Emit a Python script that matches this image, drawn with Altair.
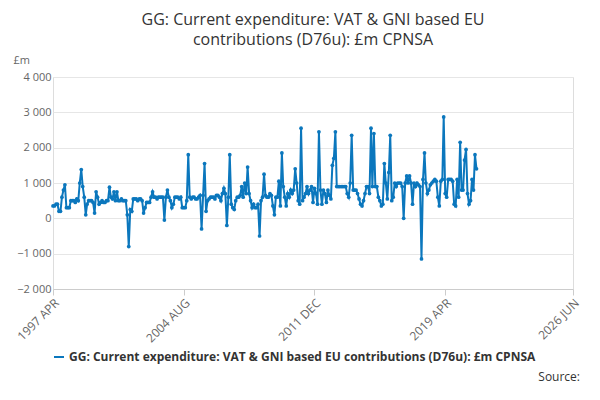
import altair as alt
import pandas as pd

SERIES = "GG: Current expenditure: VAT & GNI based EU contributions (D76u): £m CPNSA"

values = [
    350, 350, 400, 400, 200, 200, 600, 800, 950, 300, 300, 300,
    500, 500, 500, 450, 550, 500, 1000, 1380, 900, 600, 100, 400,
    500, 500, 500, 450, 150, 750, 600, 400, 450, 500, 450, 450,
    500, 500, 880, 600, 550, 750, 500, 750, 500, 500, 550, 500,
    500, 500, 100, -800, 250, 200, 550, 550, 550, 500, 550, 550,
    500, 150, 300, 450, 450, 450, 600, 750, 600, 600, 550, 600,
    600, 600, 600, -50, 600, 800, 600, 500, 300, 400, 600, 600,
    600, 550, 600, 300, 300, 300, 500, 1800, 600, 550, 600, 600,
    550, 550, 600, 650, -300, 650, 1550, 200, 500, 550, 600, 600,
    600, 550, 650, 650, 600, 500, 700, 850, 700, -200, 600, 1800,
    400, 300, 250, 500, 600, 600, 650, 900, 600, 1000, 700, 1450,
    700, 500, 300, 400, 300, 300, 400, -500, 500, 600, 1250, 650,
    600, 600, 700, 650, 350, 100, 600, 600, 1050, 350, 1850, 900,
    600, 350, 700, 600, 800, 700, 800, 1400, 1000, 500, 400, 2550,
    500, 600, 700, 900, 700, 800, 900, 450, 850, 700, 400, 2450,
    800, 400, 800, 700, 450, 800, 650, 550, 1500, 1700, 2450, 900,
    900, 900, 900, 900, 900, 900, 700, 600, 1000, 2350, 800, 800,
    800, 700, 550, 400, 350, 500, 700, 900, 900, 700, 2550, 900,
    2400, 900, 900, 600, 500, 350, 400, 1550, 1000, 550, 1300, 2350,
    500, 600, 1000, 900, 1000, 1000, 1000, 900, 0, 1000, 1200, 1000,
    1200, 1000, 400, 1000, 900, 1000, 950, 900, -1150, 1100, 1850, 1000,
    700, 800, 950, 1000, 1050, 1100, 1050, 600, 350, 1050, 1100, 2870,
    700, 600, 1100, 1100, 1100, 1050, 400, 350, 1100, 600, 2150, 800,
    800, 1650, 1950, 700, 400, 500, 1100, 800, 1800, 1400,
]
dates = pd.date_range("1997-04-01", periods=len(values), freq="MS")
tick_dates = ["1997-04-01", "2004-08-01", "2011-12-01", "2019-04-01", "2026-06-01"]

df = pd.DataFrame({"date": dates, "value": values, "series": SERIES})
blue = "#0b77bd"
font = "Open Sans"

line = (
    alt.Chart(df)
    .mark_line(point=alt.OverlayMarkDef(size=14, filled=True), strokeWidth=2)
    .encode(
        x=alt.X(
            "date:T",
            title=None,
            scale=alt.Scale(domain=["1997-04-01", "2026-06-01"]),
            axis=alt.Axis(
                values=[pd.Timestamp(d).isoformat() for d in tick_dates],
                labelExpr="upper(timeFormat(datum.value, '%Y %b'))",
                labelAngle=-45, labelAlign="right", labelBaseline="top",
                grid=False, tickSize=6, labelColor="#666", labelFontSize=12,
                domainColor="#ccc", tickColor="#ccc",
            ),
        ),
        y=alt.Y(
            "value:Q",
            title="£m",
            scale=alt.Scale(domain=[-2000, 4000]),
            axis=alt.Axis(
                values=[-2000, -1000, 0, 1000, 2000, 3000, 4000],
                labelExpr="replace(format(datum.value, ','), ',', ' ')",
                titleAngle=0, titleAlign="left", titleX=-40, titleY=-12,
                titleFontWeight="normal", titleColor="#666", titleFontSize=11,
                domain=False, ticks=False, labelColor="#666", labelFontSize=11,
                gridColor="#e6e6e6",
            ),
        ),
        color=alt.Color(
            "series:N",
            scale=alt.Scale(range=[blue]),
            legend=alt.Legend(
                title=None, orient="bottom", symbolType="stroke",
                symbolStrokeWidth=2, labelFontSize=12, labelFontWeight="bold",
                labelColor="#333", labelLimit=600, offset=6,
            ),
        ),
    )
)

source = (
    alt.Chart(pd.DataFrame({"t": ["Source:"]}))
    .mark_text(align="right", fontSize=12, color="#333", font=font)
    .encode(text="t:N", x=alt.value(527), y=alt.value(300))
)

chart = (
    alt.layer(line, source)
    .properties(
        width=520, height=212,
        title=alt.TitleParams(
            ["GG: Current expenditure: VAT & GNI based EU", "contributions (D76u): £m CPNSA"],
            fontSize=16, lineHeight=20, fontWeight="normal", color="#333",
            font=font, anchor="middle", offset=6,
        ),
        padding={"left": 5, "top": 4, "right": 5, "bottom": 6},
    )
    .configure_view(stroke=None)
    .configure(font=font)
)

chart.save("out.html", embed_options={"renderer": "svg", "actions": False})
